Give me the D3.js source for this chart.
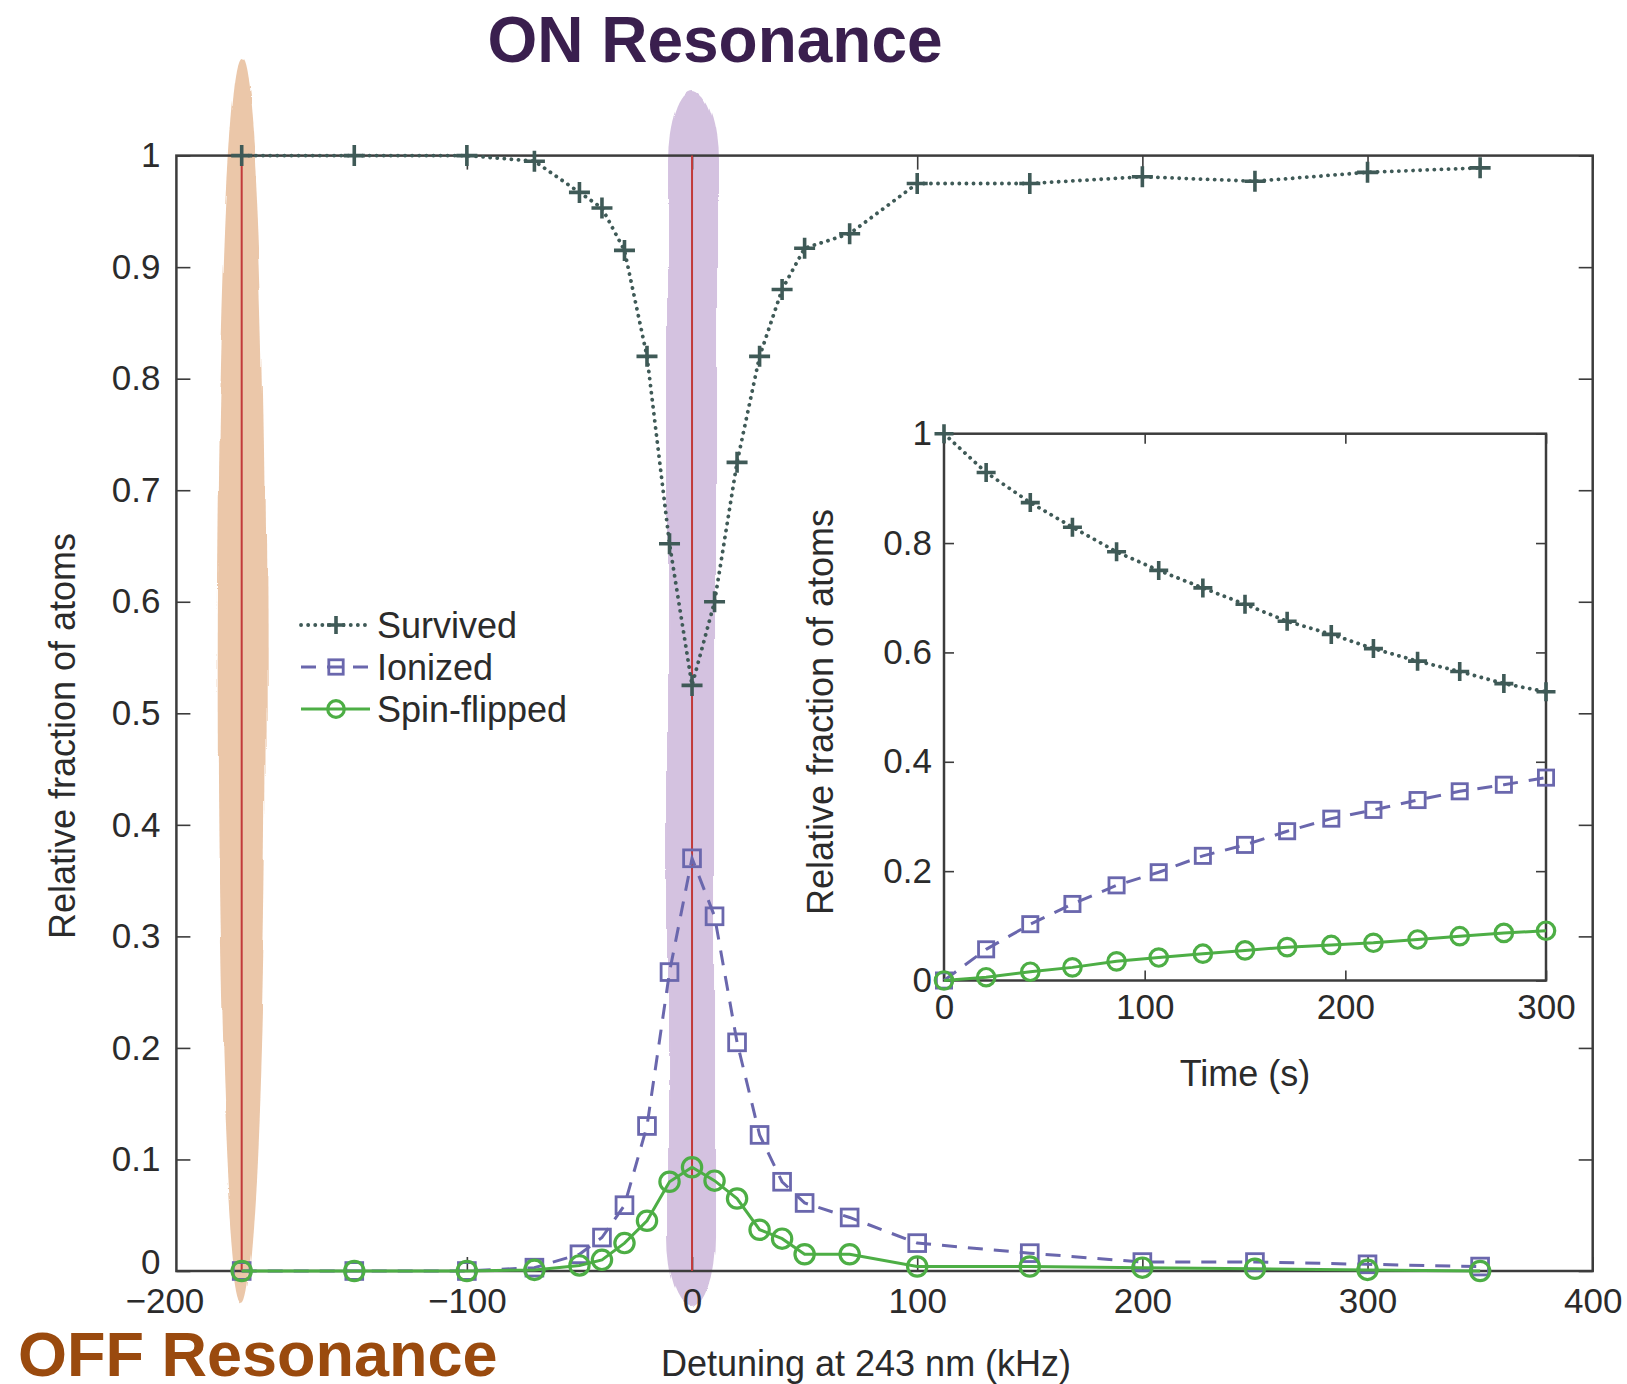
<!DOCTYPE html>
<html>
<head>
<meta charset="utf-8">
<script src="https://cdn.jsdelivr.net/npm/d3@7"></script>
<style>
  html, body { margin: 0; padding: 0; background: #fff; }
  svg text { font-family: "Liberation Sans", Arial, Helvetica, sans-serif; }
</style>
</head>
<body>
<div id="chart"></div>
<script>
// main panel: detuning scan (kHz)
const detuning = [-200, -150, -100, -70, -50, -40, -30, -20, -10, 0, 10, 20, 30, 40, 50, 70, 100, 150, 200, 250, 300, 350];
const survived = [1.0, 1.0, 1.0, 0.995, 0.967, 0.953, 0.915, 0.82, 0.652, 0.525, 0.6, 0.725, 0.82, 0.88, 0.917, 0.93, 0.975, 0.975, 0.981, 0.977, 0.985, 0.989];
const ionized = [0.0, 0.0, 0.0, 0.003, 0.015, 0.03, 0.059, 0.13, 0.268, 0.37, 0.318, 0.205, 0.122, 0.08, 0.061, 0.048, 0.025, 0.016, 0.008, 0.008, 0.006, 0.004];
const spinFlipped = [0.0, 0.0, 0.0, 0.001, 0.005, 0.01, 0.025, 0.045, 0.08, 0.093, 0.081, 0.065, 0.037, 0.029, 0.015, 0.015, 0.004, 0.004, 0.003, 0.002, 0.001, 0.0];

// inset: time (s)
const time = [0, 21, 43, 64, 86, 107, 129, 150, 171, 193, 214, 236, 257, 279, 300];
const survivedT = [1.0, 0.929, 0.874, 0.829, 0.784, 0.75, 0.718, 0.688, 0.657, 0.633, 0.607, 0.584, 0.565, 0.543, 0.528];
const ionizedT = [0.0, 0.057, 0.103, 0.14, 0.174, 0.198, 0.228, 0.248, 0.273, 0.296, 0.312, 0.33, 0.346, 0.358, 0.371];
const spinFlippedT = [0.0, 0.006, 0.016, 0.024, 0.035, 0.042, 0.049, 0.055, 0.061, 0.065, 0.069, 0.075, 0.081, 0.087, 0.091];

const xTicks = [-200, -100, 0, 100, 200, 300, 400];
const yTicks = [0, 0.1, 0.2, 0.3, 0.4, 0.5, 0.6, 0.7, 0.8, 0.9, 1];
const insetXTicks = [0, 100, 200, 300];
const insetYTicks = [0, 0.2, 0.4, 0.6, 0.8, 1];
const seriesNames = ["Survived", "Ionized", "Spin-flipped"];

const width = 1627, height = 1384;
const axisCol = "#3c3c3c", textCol = "#2b2b2b";
const styles = [
  { name: seriesNames[0], color: "#3f5a57", dash: "0.1,7", cap: "round", w: 3.8, marker: "plus" },
  { name: seriesNames[1], color: "#6a67ad", dash: "15,11", cap: "butt", w: 3, marker: "square" },
  { name: seriesNames[2], color: "#4dae45", dash: null, cap: "butt", w: 3, marker: "circle" }
];

const svg = d3.select("#chart").append("svg")
  .attr("width", width)
  .attr("height", height);

const defs = svg.append("defs");
const brush = defs.append("filter").attr("id", "brush")
  .attr("x", "-50%").attr("y", "-5%").attr("width", "200%").attr("height", "110%");
brush.append("feTurbulence").attr("type", "fractalNoise")
  .attr("baseFrequency", "0.04 0.004").attr("numOctaves", 2).attr("seed", 3).attr("result", "n");
brush.append("feDisplacementMap").attr("in", "SourceGraphic").attr("in2", "n")
  .attr("scale", 10).attr("xChannelSelector", "R").attr("yChannelSelector", "G");

// scales
const x = d3.scaleLinear().domain([-229, 400]).range([176.4, 1592.7]);
const y = d3.scaleLinear().domain([0, 1]).range([1271, 155.6]);

// highlight bands
svg.append("ellipse")
  .attr("cx", x(-200)).attr("cy", 680)
  .attr("rx", 24).attr("ry", 622)
  .attr("fill", "#ebc7a9")
  .attr("filter", "url(#brush)");
svg.append("rect")
  .attr("x", x(0) - 24).attr("y", 91)
  .attr("width", 48).attr("height", 1215)
  .attr("rx", 24).attr("ry", 70)
  .attr("fill", "#d4c2e0")
  .attr("filter", "url(#brush)");

// axes
function fmtX(d) { return d < 0 ? "\u2212" + (-d) : String(d); }
function fmtY(d) { return String(+d.toFixed(1)); }

function styleAxis(g, fs) {
  g.select(".domain").remove();
  g.selectAll(".tick line").attr("stroke", axisCol).attr("stroke-width", 1.6);
  g.selectAll(".tick text").attr("fill", textCol).attr("font-size", fs);
}

const gx = svg.append("g").attr("transform", `translate(0,${y(0)})`)
  .call(d3.axisBottom(x).tickValues(xTicks).tickSize(-14).tickPadding(17).tickFormat(fmtX))
  .call(g => styleAxis(g, 35));
// the -200 label sits at the left edge of the frame
gx.selectAll(".tick").filter(d => d === -200)
  .call(t => t.select("line").remove())
  .select("text").attr("x", x(-229) - x(-200) - 12);

svg.append("g").attr("transform", `translate(0,${y(1)})`)
  .call(d3.axisTop(x).tickValues(xTicks.filter(d => d > -200)).tickSize(-14).tickFormat(""))
  .call(g => styleAxis(g, 35));
const gy = svg.append("g").attr("transform", `translate(${x(-229)},0)`)
  .call(d3.axisLeft(y).tickValues(yTicks).tickSize(-14).tickPadding(16).tickFormat(fmtY))
  .call(g => styleAxis(g, 35));
gy.selectAll(".tick").filter(d => d === 0).select("text").attr("y", -9);
svg.append("g").attr("transform", `translate(${x(400)},0)`)
  .call(d3.axisRight(y).tickValues(yTicks).tickSize(-14).tickFormat(""))
  .call(g => styleAxis(g, 35));

svg.append("rect")
  .attr("x", x(-229)).attr("y", y(1))
  .attr("width", x(400) - x(-229)).attr("height", y(0) - y(1))
  .attr("fill", "none").attr("stroke", axisCol).attr("stroke-width", 2.5);

// red marker lines
[-200, 0].forEach(v => {
  svg.append("line")
    .attr("x1", x(v)).attr("x2", x(v))
    .attr("y1", y(1)).attr("y2", y(0))
    .attr("stroke", "#c23a3a").attr("stroke-width", 2);
});

function drawMarker(sel, type, color, s) {
  if (type === "plus") {
    sel.append("path").attr("d", `M${-s},0H${s}M0,${-s}V${s}`)
      .attr("stroke", color).attr("stroke-width", 3.6).attr("fill", "none");
  } else if (type === "square") {
    const h = s * 0.8;
    sel.append("rect").attr("x", -h).attr("y", -h).attr("width", 2 * h).attr("height", 2 * h)
      .attr("stroke", color).attr("stroke-width", 2.8).attr("fill", "none");
  } else {
    sel.append("circle").attr("r", s * 0.92)
      .attr("stroke", color).attr("stroke-width", 3.2).attr("fill", "none");
  }
}

function drawSeries(g, xs, ys, xsc, ysc, st, size) {
  const pts = xs.map((v, i) => [v, ys[i]]);
  const line = d3.line().x(d => xsc(d[0])).y(d => ysc(d[1]));
  g.append("path").datum(pts)
    .attr("d", line)
    .attr("fill", "none")
    .attr("stroke", st.color)
    .attr("stroke-width", st.w)
    .attr("stroke-linecap", st.cap)
    .attr("stroke-dasharray", st.dash);
  g.selectAll(null).data(pts).enter().append("g")
    .attr("transform", d => `translate(${xsc(d[0])},${ysc(d[1])})`)
    .each(function () { drawMarker(d3.select(this), st.marker, st.color, size); });
}

const plot = svg.append("g");
[survived, ionized, spinFlipped].forEach((vals, i) =>
  drawSeries(plot, detuning, vals, x, y, styles[i], 10.5));

// legend
const legend = svg.append("g").attr("transform", "translate(301,625)");
styles.forEach((st, i) => {
  const row = legend.append("g").attr("transform", `translate(0,${i * 42})`);
  row.append("line").attr("x1", 0).attr("x2", 69).attr("y1", 0).attr("y2", 0)
    .attr("stroke", st.color).attr("stroke-width", st.w)
    .attr("stroke-linecap", st.cap).attr("stroke-dasharray", st.dash);
  const m = row.append("g").attr("transform", "translate(35,0)");
  drawMarker(m, st.marker, st.color, 9);
  row.append("text").attr("x", 76).attr("y", 0).attr("dy", "0.35em")
    .attr("font-size", 36).attr("fill", textCol).text(st.name);
});

// inset
const ix = d3.scaleLinear().domain([0, 300]).range([944, 1546]);
const iy = d3.scaleLinear().domain([0, 1]).range([980.5, 433.7]);
const inset = svg.append("g");
inset.append("rect")
  .attr("x", ix(0)).attr("y", iy(1))
  .attr("width", ix(300) - ix(0)).attr("height", iy(0) - iy(1))
  .attr("fill", "#fff");
inset.append("g").attr("transform", `translate(0,${iy(0)})`)
  .call(d3.axisBottom(ix).tickValues(insetXTicks).tickSize(-10).tickPadding(14))
  .call(g => styleAxis(g, 35));
inset.append("g").attr("transform", `translate(0,${iy(1)})`)
  .call(d3.axisTop(ix).tickValues(insetXTicks).tickSize(-10).tickFormat(""))
  .call(g => styleAxis(g, 35));
inset.append("g").attr("transform", `translate(${ix(0)},0)`)
  .call(d3.axisLeft(iy).tickValues(insetYTicks).tickSize(-10).tickPadding(12).tickFormat(fmtY))
  .call(g => styleAxis(g, 35));
inset.append("g").attr("transform", `translate(${ix(300)},0)`)
  .call(d3.axisRight(iy).tickValues(insetYTicks).tickSize(-10).tickFormat(""))
  .call(g => styleAxis(g, 35));
inset.append("rect")
  .attr("x", ix(0)).attr("y", iy(1))
  .attr("width", ix(300) - ix(0)).attr("height", iy(0) - iy(1))
  .attr("fill", "none").attr("stroke", axisCol).attr("stroke-width", 2.5);
[survivedT, ionizedT, spinFlippedT].forEach((vals, i) =>
  drawSeries(inset, time, vals, ix, iy, styles[i], 9.5));

inset.append("text")
  .attr("transform", "translate(820,712) rotate(-90)")
  .attr("text-anchor", "middle").attr("dy", "0.35em")
  .attr("font-size", 36).attr("fill", textCol)
  .text("Relative fraction of atoms");
inset.append("text")
  .attr("x", 1245).attr("y", 1086)
  .attr("text-anchor", "middle")
  .attr("font-size", 36).attr("fill", textCol)
  .text("Time (s)");

// axis titles
svg.append("text")
  .attr("transform", "translate(62,736) rotate(-90)")
  .attr("text-anchor", "middle").attr("dy", "0.35em")
  .attr("font-size", 36).attr("fill", textCol)
  .text("Relative fraction of atoms");
svg.append("text")
  .attr("x", 866).attr("y", 1376)
  .attr("text-anchor", "middle")
  .attr("font-size", 36).attr("fill", textCol)
  .text("Detuning at 243 nm (kHz)");

// annotations
svg.append("text")
  .attr("x", 715).attr("y", 62)
  .attr("text-anchor", "middle")
  .attr("font-size", 64).attr("font-weight", "bold").attr("fill", "#3a1f4e")
  .text("ON Resonance");
svg.append("text")
  .attr("x", 18).attr("y", 1376)
  .attr("font-size", 63).attr("font-weight", "bold").attr("fill", "#9a4a0e")
  .text("OFF Resonance");
</script>
</body>
</html>
